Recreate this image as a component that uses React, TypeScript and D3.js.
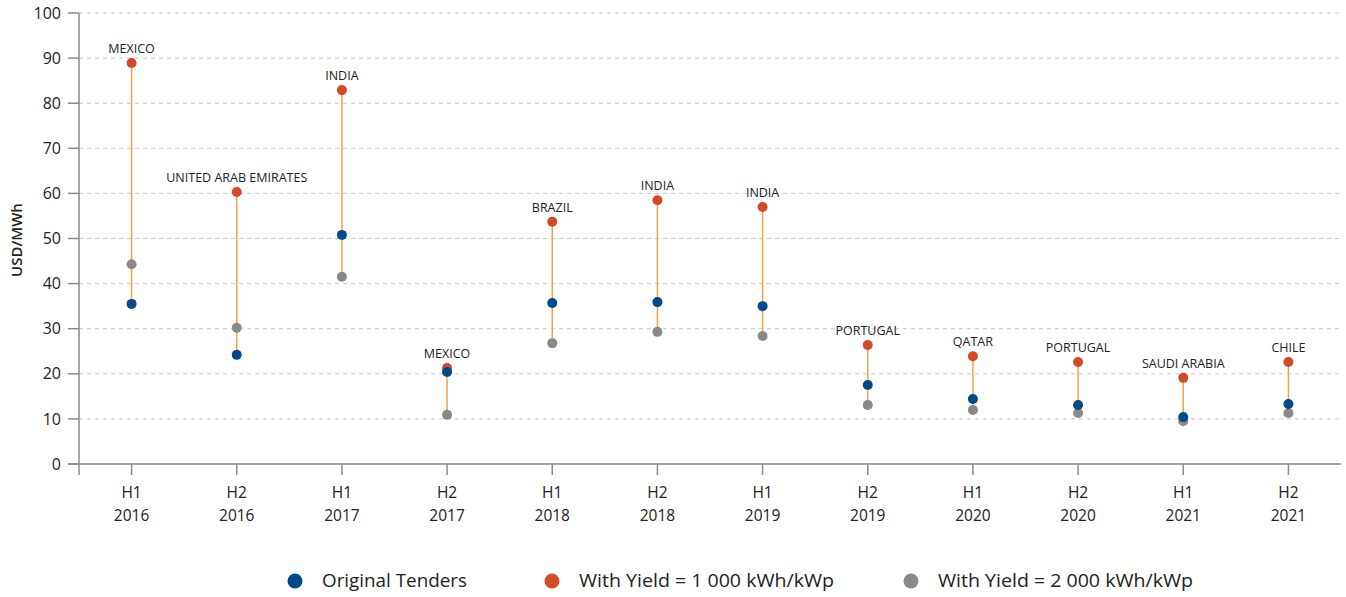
import React from "react";
import * as d3 from "d3";

const categories = ["H1 2016", "H2 2016", "H1 2017", "H2 2017", "H1 2018", "H2 2018", "H1 2019", "H2 2019", "H1 2020", "H2 2020", "H1 2021", "H2 2021"];
const countries = ["MEXICO", "UNITED ARAB EMIRATES", "INDIA", "MEXICO", "BRAZIL", "INDIA", "INDIA", "PORTUGAL", "QATAR", "PORTUGAL", "SAUDI ARABIA", "CHILE"];
const original = [35.5, 24.2, 50.8, 20.4, 35.7, 35.9, 35.0, 17.5, 14.4, 13.1, 10.4, 13.3];
const yield1000 = [88.9, 60.3, 82.9, 21.3, 53.7, 58.5, 57.0, 26.4, 23.9, 22.6, 19.1, 22.6];
const yield2000 = [44.3, 30.2, 41.5, 10.9, 26.8, 29.3, 28.4, 13.1, 12.0, 11.3, 9.5, 11.3];
const yTicks = [0, 10, 20, 30, 40, 50, 60, 70, 80, 90, 100];
const legendLabels = ["Original Tenders", "With Yield = 1 000 kWh/kWp", "With Yield = 2 000 kWh/kWp"];

const W = 1346, H = 597;
const left = 79, right = 1341, top = 13, bottom = 464;
const BLUE = "#004b87", RED = "#d24b26", GRAY = "#898989", ORANGE = "#f5a33f";
const FONT = "'Open Sans', 'Noto Sans', sans-serif";

export default function App() {
  const x = d3.scaleBand<string>().domain(categories).range([left, right]).padding(0);
  const y = d3.scaleLinear().domain([0, 100]).range([bottom, top]);
  const cx = (c: string) => (x(c) as number) + x.bandwidth() / 2;

  const legendX = [295, 552, 911];
  const legendColors = [BLUE, RED, GRAY];

  return (
    <svg width={W} height={H} style={{ position: "absolute", left: 0, top: 0, fontFamily: FONT }}>
      <rect width={W} height={H} fill="#fff" />
      {yTicks.filter((t) => t > 0).map((t) => (
        <line key={"g" + t} x1={left} x2={right} y1={y(t)} y2={y(t)} stroke="#c8c8c8" strokeDasharray="4,4" strokeWidth={1} />
      ))}
      {/* y axis */}
      <line x1={left} x2={left} y1={top} y2={bottom + 11} stroke="#8a8a8a" strokeWidth={1.5} />
      {yTicks.map((t) => (
        <g key={"t" + t}>
          <line x1={68} x2={left} y1={y(t)} y2={y(t)} stroke="#8a8a8a" strokeWidth={1.5} />
          <text x={61} y={y(t)} dy="0.35em" textAnchor="end" fontSize={16} fill="#222">{t}</text>
        </g>
      ))}
      <text transform={`translate(22,240) rotate(-90)`} textAnchor="middle" fontSize={15} fontWeight={600} fill="#222">USD/MWh</text>
      {/* x axis */}
      <line x1={68} x2={right} y1={bottom} y2={bottom} stroke="#8a8a8a" strokeWidth={1.5} />
      {categories.map((c) => {
        const [h, yr] = c.split(" ");
        return (
          <g key={"x" + c}>
            <line x1={cx(c)} x2={cx(c)} y1={bottom} y2={bottom + 11} stroke="#8a8a8a" strokeWidth={1.5} />
            <text x={cx(c)} y={498} textAnchor="middle" fontSize={15.5} fill="#222">{h}</text>
            <text x={cx(c)} y={521} textAnchor="middle" fontSize={15.5} fill="#222">{yr}</text>
          </g>
        );
      })}
      {/* ranges */}
      {categories.map((c, i) => {
        const vals = [original[i], yield1000[i], yield2000[i]];
        return (
          <line key={"r" + c} x1={cx(c)} x2={cx(c)} y1={y(d3.max(vals) as number)} y2={y(d3.min(vals) as number)} stroke={ORANGE} strokeWidth={1.5} />
        );
      })}
      {categories.map((c, i) => (
        <g key={"p" + c}>
          <circle cx={cx(c)} cy={y(yield2000[i])} r={5} fill={GRAY} />
          <circle cx={cx(c)} cy={y(yield1000[i])} r={5} fill={RED} />
          <circle cx={cx(c)} cy={y(original[i])} r={5} fill={BLUE} />
          <text x={cx(c)} y={y(yield1000[i]) - 10} textAnchor="middle" fontSize={12.5} fill="#222">{countries[i]}</text>
        </g>
      ))}
      {/* legend */}
      {legendLabels.map((l, i) => (
        <g key={"l" + i}>
          <circle cx={legendX[i]} cy={581} r={7.5} fill={legendColors[i]} />
          <text x={legendX[i] + 27} y={581} dy="0.35em" fontSize={18.5} fontWeight={500} fill="#222" textLength={i === 0 ? 145 : 255} lengthAdjust="spacingAndGlyphs">{l}</text>
        </g>
      ))}
    </svg>
  );
}
